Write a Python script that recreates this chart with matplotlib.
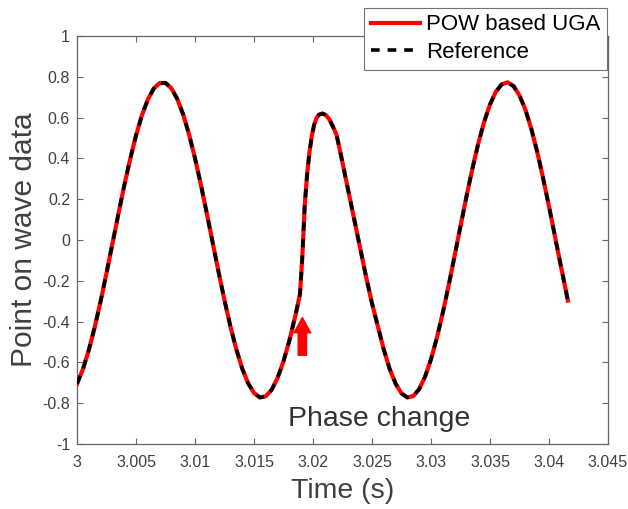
#!/usr/bin/env python3
"""Point-on-wave data with a phase change: POW based UGA vs reference."""

import matplotlib
matplotlib.use("Agg")
import matplotlib.pyplot as plt

# values
time_s = [
    3.0000, 3.0005, 3.0010, 3.0015, 3.0020, 3.0025, 3.0030, 3.0035, 3.0040, 3.0045,
    3.0050, 3.0055, 3.0060, 3.0065, 3.0070, 3.0075, 3.0080, 3.0085, 3.0090, 3.0095,
    3.0100, 3.0105, 3.0110, 3.0115, 3.0120, 3.0125, 3.0130, 3.0135, 3.0140, 3.0145,
    3.0150, 3.0155, 3.0160, 3.0165, 3.0170, 3.0175, 3.0180, 3.0185, 3.0189,
    3.0191, 3.0193, 3.0195, 3.0197, 3.0199, 3.0201, 3.0203, 3.0205, 3.0208,
    3.0211, 3.0214, 3.0217, 3.0220, 3.0225, 3.0230, 3.0235, 3.0240, 3.0245,
    3.0250, 3.0255, 3.0260, 3.0265, 3.0270, 3.0275, 3.0280, 3.0285, 3.0290,
    3.0295, 3.0300, 3.0305, 3.0310, 3.0315, 3.0320, 3.0325, 3.0330, 3.0335,
    3.0340, 3.0345, 3.0350, 3.0355, 3.0360, 3.0365, 3.0370, 3.0375, 3.0380,
    3.0385, 3.0390, 3.0395, 3.0400, 3.0405, 3.0410, 3.0415, 3.0416,
]
pow_uga = [
    -0.705, -0.634, -0.540, -0.428, -0.301, -0.163, -0.019, 0.125, 0.265, 0.395,
    0.512, 0.611, 0.688, 0.742, 0.769, 0.770, 0.744, 0.691, 0.615, 0.517,
    0.401, 0.271, 0.131, -0.013, -0.157, -0.295, -0.423, -0.535, -0.630, -0.702,
    -0.750, -0.772, -0.766, -0.734, -0.676, -0.595, -0.493, -0.373, -0.265,
    -0.080, 0.170, 0.320, 0.430, 0.510, 0.565, 0.598, 0.614, 0.620,
    0.612, 0.590, 0.555, 0.515, 0.380, 0.240, 0.100, -0.040, -0.180,
    -0.310, -0.423, -0.537, -0.632, -0.704, -0.752, -0.772, -0.765, -0.731,
    -0.670, -0.585, -0.480, -0.357, -0.222, -0.079, 0.067, 0.211, 0.347,
    0.471, 0.578, 0.664, 0.727, 0.763, 0.773, 0.754, 0.709, 0.639,
    0.546, 0.433, 0.304, 0.165, 0.020, -0.125, -0.267, -0.297,
]
reference = list(pow_uga)

x_ticks = [3.0, 3.005, 3.01, 3.015, 3.02, 3.025, 3.03, 3.035, 3.04, 3.045]
x_tick_labels = ["3", "3.005", "3.01", "3.015", "3.02", "3.025", "3.03", "3.035", "3.04", "3.045"]
y_ticks = [-1.0, -0.8, -0.6, -0.4, -0.2, 0.0, 0.2, 0.4, 0.6, 0.8, 1.0]
y_tick_labels = ["-1", "-0.8", "-0.6", "-0.4", "-0.2", "0", "0.2", "0.4", "0.6", "0.8", "1"]

arrow_x = 3.0191
arrow_y = (-0.565, -0.38)
note_text = "Phase change"
note_pos = (3.0179, -0.912)

plt.rcParams["font.family"] = ["Liberation Sans", "DejaVu Sans"]

fig = plt.figure(figsize=(6.28, 5.09), dpi=100)
ax = fig.add_axes([0.1226, 0.1277, 0.8455, 0.8016])

ax.plot(time_s, pow_uga, color="red", linewidth=3.0, label="POW based UGA", zorder=3)
ax.plot(time_s, reference, color="black", linewidth=2.6, linestyle=(0, (2.4, 2.2)),
        label="Reference", zorder=4)

ax.annotate(
    "",
    xy=(arrow_x, arrow_y[1]),
    xytext=(arrow_x, arrow_y[0]),
    arrowprops=dict(
        arrowstyle="simple,head_length=1.1,head_width=1.2,tail_width=0.6",
        color="red",
        shrinkA=0,
        shrinkB=0,
        mutation_scale=10,
    ),
)
ax.text(note_pos[0], note_pos[1], note_text, fontsize=20.5, color="#333333",
        ha="left", va="baseline")

ax.set_xlim(3.0, 3.045)
ax.set_ylim(-1.0, 1.0)
ax.set_xticks(x_ticks)
ax.set_xticklabels(x_tick_labels)
ax.set_yticks(y_ticks)
ax.set_yticklabels(y_tick_labels)

spine_color = "0.4"
for spine in ax.spines.values():
    spine.set_color(spine_color)
    spine.set_linewidth(0.9)
ax.tick_params(axis="both", which="major", direction="in", length=4.5, width=0.8,
               color=spine_color, labelcolor="0.25", labelsize=11.5,
               top=True, right=True)
ax.tick_params(axis="x", pad=8)
ax.tick_params(axis="y", pad=5)

ax.set_xlabel("Time (s)", fontsize=20.5, color="0.25", labelpad=6)
ax.set_ylabel("Point on wave data", fontsize=21.5, color="0.25", labelpad=3)

legend = ax.legend(
    loc="upper right",
    bbox_to_anchor=(0.999, 1.069),
    fontsize=16,
    frameon=True,
    fancybox=False,
    framealpha=1.0,
    edgecolor="0.45",
    borderpad=0.3,
    labelspacing=0.3,
    handlelength=2.2,
    handletextpad=0.3,
    borderaxespad=0.0,
)
legend.get_frame().set_linewidth(0.8)
legend.set_zorder(10)

fig.savefig("out.png", dpi=100)
plt.close(fig)
